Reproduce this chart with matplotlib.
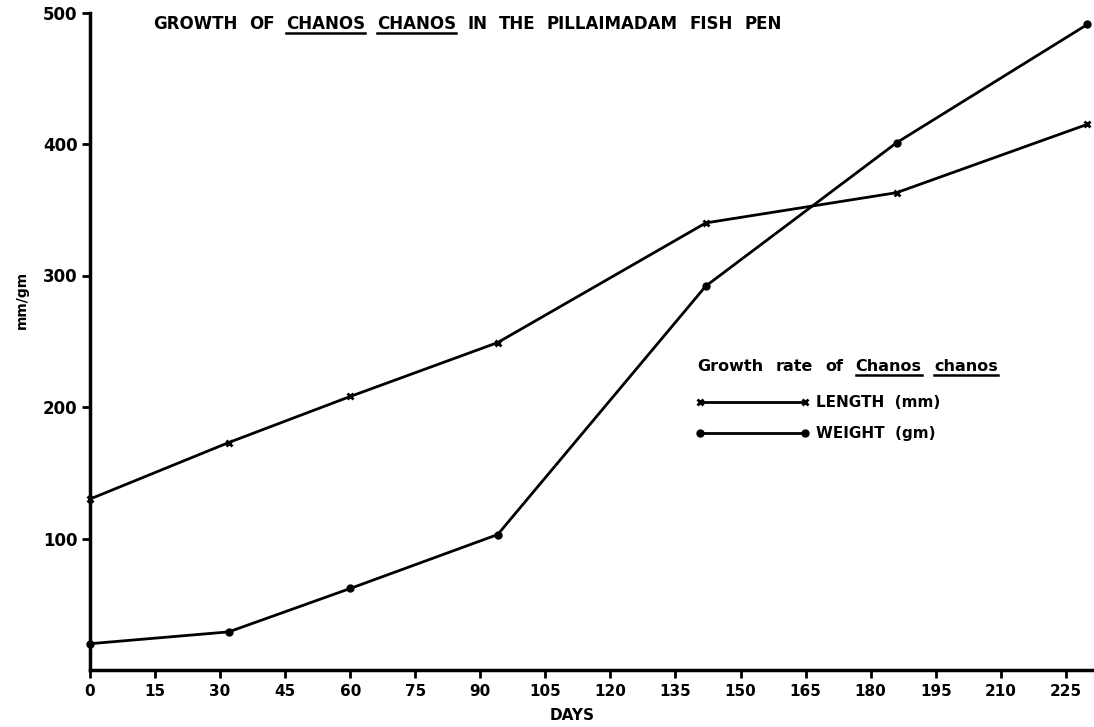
import matplotlib
matplotlib.use("Agg")
import matplotlib.pyplot as plt
from matplotlib.lines import Line2D

# ---- data ----
days = [0, 32, 60, 94, 142, 186, 230]
length_mm = [130, 173, 208, 249, 340, 363, 415]
weight_gm = [20, 29, 62, 103, 292, 401, 491]
xticks = list(range(0, 226, 15))
yticks = [100, 200, 300, 400, 500]

title_words = [("GROWTH", False), ("OF", False), ("CHANOS", True), ("CHANOS", True),
               ("IN", False), ("THE", False), ("PILLAIMADAM", False), ("FISH", False), ("PEN", False)]
legend_title_words = [("Growth", False), ("rate", False), ("of", False), ("Chanos", True), ("chanos", True)]
series_labels = ["LENGTH  (mm)", "WEIGHT  (gm)"]

W, H = 1094, 727
plt.rcParams['font.family'] = ['DejaVu Sans']
plt.rcParams['font.weight'] = 'bold'
fig = plt.figure(figsize=(W / 100, H / 100), dpi=100)
ax = fig.add_axes([90 / W, 57 / H, (W - 90) / W, (670 - 12.5) / H])

lw = 2.0
ax.plot(days, length_mm, color='black', lw=lw, marker='x', ms=5, mew=2, clip_on=False,
        label=series_labels[0])
ax.plot(days, weight_gm, color='black', lw=lw, marker='o', ms=5, clip_on=False,
        label=series_labels[1])

ax.set_xlim(0, 231.5)
ax.set_ylim(0, 500)
ax.set_xticks(xticks)
ax.set_yticks(yticks)
ax.set_xticklabels([str(t) for t in xticks], fontsize=11, fontweight='bold')
ax.set_yticklabels([str(t) for t in yticks], fontsize=12, fontweight='bold')
for s in ['top', 'right']:
    ax.spines[s].set_visible(False)
for s in ['left', 'bottom']:
    ax.spines[s].set_linewidth(2.5)
ax.tick_params(axis='both', direction='out', length=6, width=2, pad=3)
ax.tick_params(axis='x', pad=4)

# legend (entries)
leg = ax.legend(loc='upper left', bbox_to_anchor=(695 / W, (H - 395) / H),
                bbox_transform=fig.transFigure, frameon=False, numpoints=2,
                handlelength=7.5, handletextpad=0.45, labelspacing=1.05,
                borderpad=0, borderaxespad=0, prop={'size': 11, 'weight': 'bold'})

fig.canvas.draw()
r = fig.canvas.get_renderer()


def space_width(size):
    t1 = fig.text(0, 0, "H H", fontsize=size, fontweight='bold')
    t2 = fig.text(0, 0, "HH", fontsize=size, fontweight='bold')
    w = t1.get_window_extent(r).width - t2.get_window_extent(r).width
    t1.remove(); t2.remove()
    return w


def word_row(x0, y0_top, words, size, gapmult=1.0, ul_off=4):
    sp = space_width(size) * gapmult
    x = x0
    yb = H - y0_top
    for w, ul in words:
        t = fig.text(x / W, yb / H, w, fontsize=size, fontweight='bold',
                     ha='left', va='baseline')
        bb = t.get_window_extent(r)
        if ul:
            fig.add_artist(Line2D([bb.x0 / W, bb.x1 / W], [(yb - ul_off) / H] * 2,
                                  transform=fig.transFigure, color='black', lw=1.8))
        x = bb.x1 + sp


word_row(153, 29, title_words, 12, gapmult=2.0)
word_row(697, 371, legend_title_words, 11.5, gapmult=2.2)

fig.text(22 / W, (H - 300) / H, "mm/gm", rotation=90, ha='center', va='center',
         fontsize=10, fontweight='bold')
fig.text(572 / W, (H - 716) / H, "DAYS", ha='center', va='center',
         fontsize=11, fontweight='bold')

fig.savefig("out.png", dpi=100)
